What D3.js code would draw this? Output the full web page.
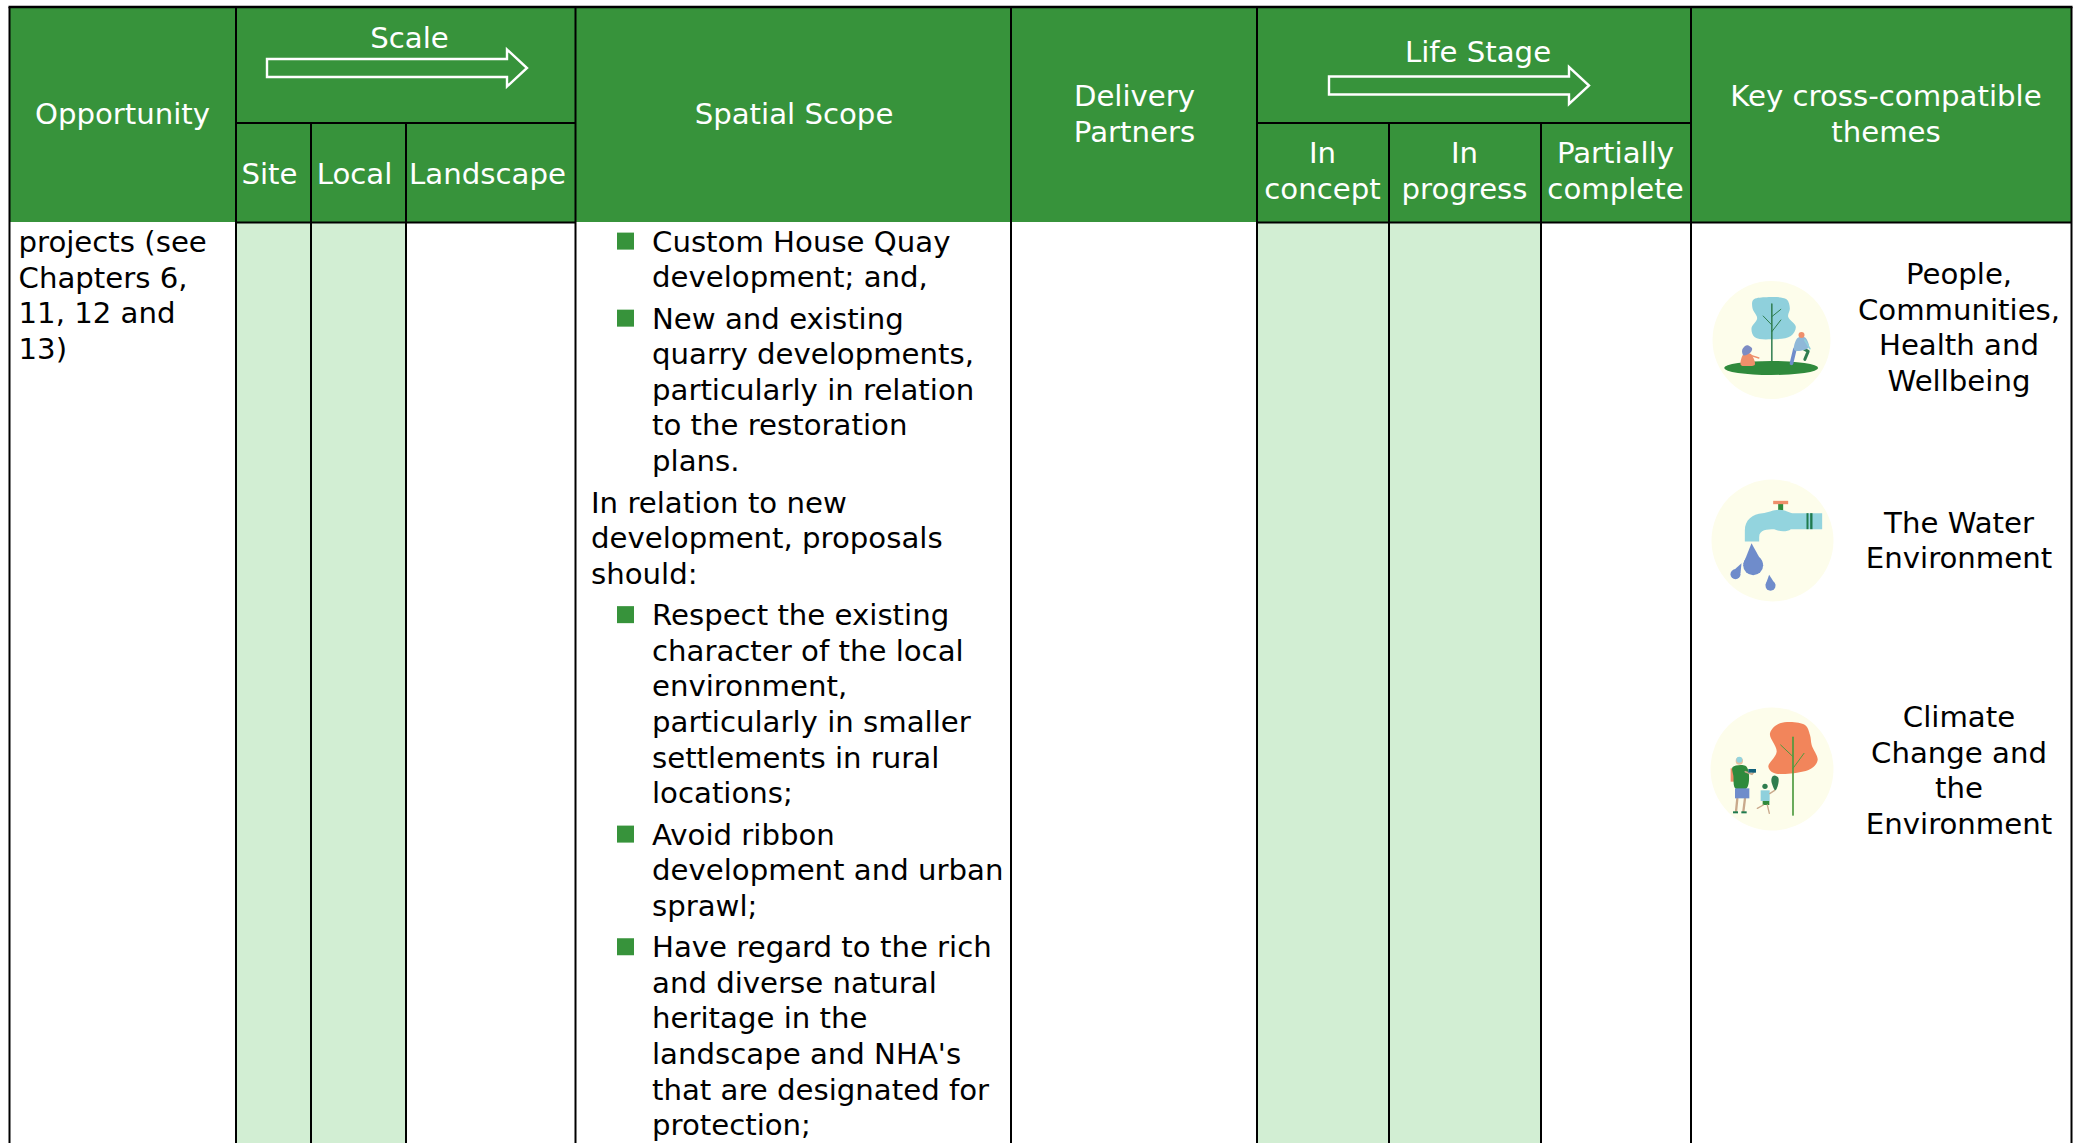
<!DOCTYPE html>
<html>
<head>
<meta charset="utf-8">
<script src="https://cdn.jsdelivr.net/npm/d3@7"></script>
<style>
  html, body { margin: 0; padding: 0; background: #fff; }
  svg { display: block; }
  text { font-family: "DejaVu Sans", sans-serif; }
</style>
</head>
<body>
<svg id="chart" width="2078" height="1143"></svg>
<script>
// column keys, left to right
var columns = ["opportunity", "site", "local", "landscape", "scope", "partners", "concept", "progress", "complete", "themes"];
// which columns are ticked (light green) for this row
var ticked = ["site", "local", "concept", "progress"];

var opportunityLines = ["projects (see", "Chapters 6,", "11, 12 and", "13)"];

var scopeBlocks = [
    { bullet: true, lines: ["Custom House Quay", "development; and,"] },
    { bullet: true, lines: ["New and existing", "quarry developments,", "particularly in relation", "to the restoration", "plans."] },
    { bullet: false, lines: ["In relation to new", "development, proposals", "should:"] },
    { bullet: true, lines: ["Respect the existing", "character of the local", "environment,", "particularly in smaller", "settlements in rural", "locations;"] },
    { bullet: true, lines: ["Avoid ribbon", "development and urban", "sprawl;"] },
    { bullet: true, lines: ["Have regard to the rich", "and diverse natural", "heritage in the", "landscape and NHA's", "that are designated for", "protection;"] }
];

var peopleLines = ["People,", "Communities,", "Health and", "Wellbeing"];
var waterLines = ["The Water", "Environment"];
var climateLines = ["Climate", "Change and", "the", "Environment"];

var GREEN = "#37933b", LIGHT = "#d2eed3", CREAM = "#fdfdeb";
var W = 2078, H = 1143, FONT = 29.2, LINE = 35.6;

var svg = d3.select("#chart");

// column left edges, last one is the right edge of the table
var x = d3.scaleOrdinal()
    .domain(columns.concat("end"))
    .range([9.5, 236, 311, 406, 575.5, 1011, 1257, 1389, 1541, 1691, 2071.5]);
var colW = function (c) { return x(columns[columns.indexOf(c) + 1] || "end") - x(c); };

var TOP = 7, MID = 123, HEAD = 222;

// header fill
svg.append("rect").attr("x", x("opportunity")).attr("y", TOP)
    .attr("width", x("end") - x("opportunity")).attr("height", HEAD - TOP).attr("fill", GREEN);

// shaded cells
svg.selectAll(".cell").data(ticked).enter().append("rect")
    .attr("class", "cell")
    .attr("x", function (d) { return x(d); })
    .attr("y", HEAD)
    .attr("width", function (d) { return colW(d); })
    .attr("height", H - HEAD)
    .attr("fill", LIGHT);

// grid
function rule(x1, y1, x2, y2, w) {
    svg.append("line").attr("x1", x1).attr("y1", y1).attr("x2", x2).attr("y2", y2)
        .attr("stroke", "#000").attr("stroke-width", w);
}
rule(x("opportunity") - 1, TOP, x("end") + 1, TOP, 2.6);
["opportunity", "site", "scope", "partners", "concept", "themes", "end"].forEach(function (c) {
    rule(x(c), TOP, x(c), H, 2);
});
["local", "landscape", "progress", "complete"].forEach(function (c) {
    rule(x(c), MID, x(c), H, 2);
});
rule(x("site"), MID, x("scope"), MID, 2.2);
rule(x("concept"), MID, x("themes"), MID, 2.2);
rule(x("site"), HEAD + 0.5, x("scope"), HEAD + 0.5, 2.2);
rule(x("concept") - 1, HEAD + 0.5, x("end"), HEAD + 0.5, 2.2);

// header labels
var headerLabels = [
    { text: "Opportunity", cx: 122.5, y: 124 },
    { text: "Scale", cx: 409.5, y: 48 },
    { text: "Site", cx: 269.5, y: 184 },
    { text: "Local", cx: 354.5, y: 184 },
    { text: "Landscape", cx: 487.5, y: 184 },
    { text: "Spatial Scope", cx: 794, y: 124 },
    { text: "Delivery", cx: 1134.5, y: 106 },
    { text: "Partners", cx: 1134.5, y: 142 },
    { text: "Life Stage", cx: 1478, y: 62 },
    { text: "In", cx: 1322.5, y: 162.5 },
    { text: "concept", cx: 1322.5, y: 198.5 },
    { text: "In", cx: 1464.5, y: 162.5 },
    { text: "progress", cx: 1464.5, y: 198.5 },
    { text: "Partially", cx: 1615.5, y: 162.5 },
    { text: "complete", cx: 1615.5, y: 198.5 },
    { text: "Key cross-compatible", cx: 1886, y: 106 },
    { text: "themes", cx: 1886, y: 142 }
];
svg.selectAll(".head").data(headerLabels).enter().append("text")
    .attr("class", "head")
    .attr("x", function (d) { return d.cx; })
    .attr("y", function (d) { return d.y; })
    .attr("text-anchor", "middle")
    .attr("font-size", FONT)
    .attr("fill", "#fff")
    .text(function (d) { return d.text; });

// outline arrows in the Scale and Life Stage cells
function arrow(ax, ay) {
    var pts = [[0, -9], [240, -9], [240, -18.5], [260, 0], [240, 18.5], [240, 9], [0, 9]];
    svg.append("path")
        .attr("transform", "translate(" + ax + "," + ay + ")")
        .attr("d", d3.line()(pts) + "Z")
        .attr("fill", "none").attr("stroke", "#fff").attr("stroke-width", 2.4);
}
arrow(267, 68);
arrow(1329, 85.5);

// body text
function lines(list, tx, y0, anchor) {
    list.forEach(function (t, i) {
        svg.append("text").attr("x", tx).attr("y", y0 + i * LINE)
            .attr("text-anchor", anchor || "start")
            .attr("font-size", FONT).attr("fill", "#000").text(t);
    });
}
lines(opportunityLines, 18.5, 252);

var by = 251.6;
scopeBlocks.forEach(function (b) {
    if (b.bullet) {
        svg.append("rect").attr("x", 617).attr("y", by - 19).attr("width", 17).attr("height", 17).attr("fill", GREEN);
    }
    lines(b.lines, b.bullet ? 652 : 591, by);
    by += b.lines.length * LINE + 5.85;
});

lines(peopleLines, 1959, 284, "middle");
lines(waterLines, 1959, 532.5, "middle");
lines(climateLines, 1959, 727, "middle");

// theme icons, drawn in a 3x local space around the circle centre
var blobLine = d3.line().curve(d3.curveCatmullRomClosed);
function icon(cx, cy, r) {
    var g = svg.append("g").attr("transform", "translate(" + cx + "," + cy + ") scale(0.3333)");
    g.append("circle").attr("r", r * 3).attr("fill", CREAM);
    return g;
}
function blob(g, pts, fill) { g.append("path").attr("d", blobLine(pts)).attr("fill", fill); }
function stick(g, pts, color, w) {
    g.append("path").attr("d", d3.line()(pts)).attr("fill", "none").attr("stroke", color)
        .attr("stroke-width", w).attr("stroke-linecap", "round").attr("stroke-linejoin", "round");
}
function box(g, x0, y0, x1, y1, fill) {
    g.append("rect").attr("x", x0).attr("y", y0).attr("width", x1 - x0).attr("height", y1 - y0).attr("fill", fill);
}
function drop(g, tx, ty, cx, cy, r, fill) {
    g.append("circle").attr("cx", cx).attr("cy", cy).attr("r", r).attr("fill", fill);
    g.append("path").attr("d", "M" + tx + "," + ty + "L" + (cx - r) + "," + (cy - 3) + "L" + (cx + r) + "," + (cy - 3) + "Z").attr("fill", fill);
}

// people
var i1 = icon(1771.5, 340, 59);
blob(i1, [[-55, -120], [-20, -128], [45, -122], [55, -95], [50, -70], [73, -40], [58, -12], [0, -2], [-50, -8], [-60, -35], [-43, -65], [-57, -95]], "#8fd0dc");
stick(i1, [[1, -108], [1, 70]], "#2f7d4f", 4.5);
stick(i1, [[1, -45], [-25, -72]], "#2f7d4f", 3);
stick(i1, [[1, -70], [28, -92]], "#2f7d4f", 3);
stick(i1, [[1, -25], [28, -60]], "#2f7d4f", 3);
i1.append("ellipse").attr("cx", -1).attr("cy", 84).attr("rx", 141).attr("ry", 21).attr("fill", "#2f8a3c");
blob(i1, [[-82, 40], [-62, 42], [-50, 74], [-70, 78], [-92, 75]], "#ef8f6b");
blob(i1, [[-88, 30], [-74, 16], [-58, 26], [-66, 40], [-84, 46]], "#7d8cc4");
stick(i1, [[-62, 46], [-38, 54]], "#ef8f6b", 4);
stick(i1, [[70, 28], [60, 70]], "#6f8ccb", 11);
stick(i1, [[92, 24], [110, 34], [100, 58]], "#2f7d4f", 9);
blob(i1, [[78, -6], [100, -8], [112, 22], [88, 32], [68, 30]], "#8fb8d8");
stick(i1, [[100, 0], [115, 26]], "#8fd0dc", 5);
i1.append("circle").attr("cx", 90).attr("cy", -15).attr("r", 9).attr("fill", "#ef8f6b");

// water
var i2 = icon(1772.5, 540.5, 61);
box(i2, 17, -112, 32, -90, "#2f8a3c");
box(i2, 2, -119, 47, -109, "#ef8f6b");
i2.append("path")
    .attr("d", "M-83,3 L-83,-30 C-83,-62 -60,-80 -30,-82 C-15,-82 0,-92 20,-92 C40,-92 50,-82 60,-82 L149,-82 L149,-34 L55,-34 C45,-26 20,-26 5,-34 C-15,-34 -40,-34 -40,-10 L-40,3 Z")
    .attr("fill", "#93d4de");
box(i2, 102, -82, 108, -34, "#1f7a4d");
box(i2, 113, -82, 120, -34, "#1f7a4d");
drop(i2, -63, 8, -58, 74, 30, "#6f8ccb");
drop(i2, -93, 68, -111, 101, 15, "#6f8ccb");
drop(i2, -10, 103, -6, 136, 15, "#6f8ccb");

// climate
var i3 = icon(1772, 769, 61.5);
blob(i3, [[24, -137], [99, -132], [114, -102], [119, -72], [137, -27], [119, -2], [64, 13], [4, 11], [-11, -7], [14, -52], [-6, -107]], "#f2855b");
stick(i3, [[63, -95], [63, 138]], "#4d9a3e", 5);
stick(i3, [[63, -37], [26, -72]], "#4d9a3e", 3);
stick(i3, [[63, -2], [96, -47]], "#4d9a3e", 3);
box(i3, -124, -2, -112, 38, "#ef8f6b");
blob(i3, [[-118, -6], [-80, -10], [-70, 10], [-76, 58], [-110, 58], [-116, 20]], "#2f8a3c");
i3.append("circle").attr("cx", -98).attr("cy", -24).attr("r", 11).attr("fill", "#e6bfa0");
i3.append("circle").attr("cx", -98).attr("cy", -28).attr("r", 9).attr("fill", "#93d4de");
stick(i3, [[-104, 88], [-108, 128]], "#c9a98c", 7);
stick(i3, [[-81, 88], [-86, 128]], "#c9a98c", 7);
box(i3, -111, 58, -68, 88, "#6f8ccb");
box(i3, -117, 127, -102, 133, "#1f7a4d");
box(i3, -92, 127, -76, 133, "#1f7a4d");
stick(i3, [[-80, 8], [-60, 16], [-52, 6]], "#c9a98c", 5);
box(i3, -71, 0, -48, 11, "#0f5f7a");
i3.append("circle").attr("cx", -21).attr("cy", 52).attr("r", 8).attr("fill", "#2f7d4f");
box(i3, -34, 64, -7, 96, "#8fd0dc");
box(i3, -28, 96, -8, 108, "#2f8a3c");
stick(i3, [[-26, 108], [-44, 118]], "#c9a98c", 4);
stick(i3, [[-14, 108], [-8, 133]], "#c9a98c", 4);
stick(i3, [[-7, 74], [8, 64]], "#c9a98c", 4);
blob(i3, [[2, 22], [10, 20], [19, 26], [18, 48], [10, 64], [2, 50], [-2, 34]], "#2f7d4f");
</script>
</body>
</html>
